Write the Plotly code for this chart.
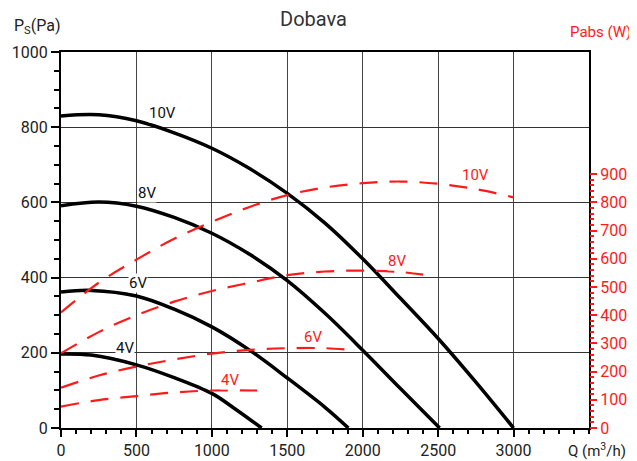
import plotly.graph_objects as go

# Ps (Pa) curves, left axis
q_10v = [0, 250, 500, 750, 1000, 1250, 1500, 1750, 2000, 2250, 2500, 2750, 3000]
ps_10v = [830, 833, 817, 785, 744, 690, 624, 545, 450, 345, 238, 122, 0]
q_8v = [0, 250, 500, 750, 1000, 1250, 1500, 1750, 2000, 2250, 2510]
ps_8v = [591, 601, 590, 560, 518, 462, 392, 305, 207, 105, 0]
q_6v = [0, 200, 500, 750, 1000, 1250, 1500, 1750, 1905]
ps_6v = [362, 366, 351, 316, 269, 207, 133, 55, 0]
q_4v = [0, 200, 500, 750, 1000, 1150, 1330]
ps_4v = [197, 194, 168, 134, 92, 52, 0]

# Pabs (W) curves, right axis
qa_10v = [0, 250, 500, 750, 1000, 1250, 1500, 1750, 2000, 2250, 2500, 2750, 3000]
w_10v = [410, 515, 597, 671, 731, 784, 826, 853, 868, 874, 866, 847, 818]
qa_8v = [0, 250, 500, 750, 1000, 1250, 1500, 1750, 2000, 2250, 2400]
w_8v = [265, 340, 400, 448, 486, 515, 542, 555, 558, 553, 544]
qa_6v = [0, 250, 500, 750, 1000, 1250, 1500, 1750, 1900]
w_6v = [143, 186, 218, 243, 264, 277, 283, 283, 278]
qa_4v = [0, 250, 500, 750, 1000, 1300]
w_4v = [76, 99, 113, 126, 133, 133]

x_ticks = [0, 500, 1000, 1500, 2000, 2500, 3000]
y_ticks = [0, 200, 400, 600, 800, 1000]
y2_ticks = [0, 100, 200, 300, 400, 500, 600, 700, 800, 900]

RED = '#ff1a1a'
FONT = 'Roboto'

fig = go.Figure()
for q, ps in [(q_10v, ps_10v), (q_8v, ps_8v), (q_6v, ps_6v), (q_4v, ps_4v)]:
    fig.add_trace(go.Scatter(x=q, y=ps, mode='lines', line=dict(color='black', width=3.5, shape='spline'),
                             showlegend=False, hoverinfo='skip'))
for q, w in [(qa_10v, w_10v), (qa_8v, w_8v), (qa_6v, w_6v), (qa_4v, w_4v)]:
    fig.add_trace(go.Scatter(x=q, y=w, yaxis='y2', mode='lines',
                             line=dict(color=RED, width=2.2, dash='18px,12px', shape='spline'),
                             showlegend=False, hoverinfo='skip'))

annotations = []
# black curve labels (white box over grid)
for txt, x, y in [('10V', 670, 838), ('8V', 570, 625), ('6V', 510, 386), ('4V', 424, 213)]:
    annotations.append(dict(x=x, y=y, xref='x', yref='y', text=txt, showarrow=False,
                            font=dict(family=FONT, size=15, color='#111'), bgcolor='white', borderpad=0))
# red curve labels
for txt, x, y in [('10V', 2745, 673), ('8V', 2228, 444), ('6V', 1671, 242), ('4V', 1121, 128)]:
    annotations.append(dict(x=x, y=y, xref='x', yref='y', text=txt, showarrow=False,
                            font=dict(family=FONT, size=15, color=RED), bgcolor='white', borderpad=0))

# titles in paper units (plot area is 528 x 376 px)
for txt, x, y, size, col in [('Dobava', 0.479, 1.088, 20, '#333'),
                             ('P<sub>S</sub>(Pa)', -0.044, 1.068, 16, '#222'),
                             ('Pabs (W)', 1.021, 1.052, 15, RED),
                             ('Q (m<sup>3</sup>/h)', 1.015, -0.058, 15, '#222')]:
    annotations.append(dict(x=x, y=y, xref='paper', yref='paper', text=txt, showarrow=False,
                            xanchor='center', yanchor='middle', font=dict(family=FONT, size=size, color=col)))

# page body has an 8px margin, so the figure is 8px smaller than the window
fig.update_layout(
    width=629, height=453,
    margin=dict(l=53, r=48, t=44, b=33),
    paper_bgcolor='white', plot_bgcolor='white',
    font=dict(family=FONT, size=16, color='#222'),
    xaxis=dict(range=[0, 3500], tickvals=x_ticks, ticks='outside', ticklen=7, tickwidth=1.5, tickcolor='black',
               showline=True, linecolor='black', linewidth=2, mirror=True, automargin=False,
               showgrid=True, gridcolor='#444', gridwidth=1.3, zeroline=False,
               minor=dict(dtick=100, ticks='outside', ticklen=4, tickcolor='black', showgrid=False),
               tickfont=dict(family=FONT, size=16, color='#222')),
    yaxis=dict(range=[0, 1000], tickvals=y_ticks, ticks='outside', ticklen=8, tickwidth=1.5, tickcolor='black',
               showline=True, linecolor='black', linewidth=2, mirror=True, automargin=False,
               showgrid=True, gridcolor='#333', gridwidth=1.2, zeroline=False,
               minor=dict(dtick=50, ticks='outside', ticklen=5, tickcolor='black', showgrid=False),
               tickfont=dict(family=FONT, size=16, color='#222')),
    yaxis2=dict(range=[0, 4000 / 3], overlaying='y', side='right', tickvals=y2_ticks, automargin=False,
                ticks='outside', ticklen=7, tickwidth=2, tickcolor=RED, showgrid=False, zeroline=False,
                showline=False,
                minor=dict(tickvals=[v for v in range(0, 901, 20)], ticks='outside', ticklen=4,
                           tickwidth=1.5, tickcolor=RED, showgrid=False),
                tickfont=dict(family=FONT, size=16, color=RED)),
    annotations=annotations,
)

fig.write_html("out.html")
